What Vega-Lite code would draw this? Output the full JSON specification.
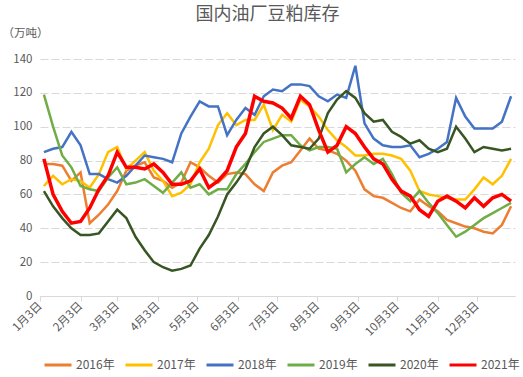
{
 "$schema": "https://vega.github.io/schema/vega-lite/v6.json",
 "width": 475, "height": 237,
 "autosize": "none",
 "padding": {"left": 40, "top": 59, "right": 8, "bottom": 81},
 "background": "white",
 "config": {"font": "Noto Sans CJK SC", "view": {"stroke": null}},
 "title": {"text": "国内油厂豆粕库存", "fontSize": 18, "fontWeight": "normal", "color": "#595959", "offset": 3, "dx": -10, "font": "Noto Sans CJK SC"},
 "data": {"values": [
{"s":"2016年","d":3,"v":78},{"s":"2016年","d":10,"v":78},{"s":"2016年","d":17,"v":77},{"s":"2016年","d":24,"v":68},{"s":"2016年","d":31,"v":73},{"s":"2016年","d":38,"v":43},{"s":"2016年","d":45,"v":48},{"s":"2016年","d":52,"v":54},{"s":"2016年","d":59,"v":62},{"s":"2016年","d":66,"v":74},{"s":"2016年","d":73,"v":77},{"s":"2016年","d":80,"v":79},{"s":"2016年","d":87,"v":70},{"s":"2016年","d":94,"v":68},{"s":"2016年","d":101,"v":64},{"s":"2016年","d":108,"v":67},{"s":"2016年","d":115,"v":79},{"s":"2016年","d":122,"v":76},{"s":"2016年","d":129,"v":71},{"s":"2016年","d":136,"v":67},{"s":"2016年","d":143,"v":72},{"s":"2016年","d":150,"v":73},{"s":"2016年","d":157,"v":72},{"s":"2016年","d":164,"v":66},{"s":"2016年","d":171,"v":62},{"s":"2016年","d":178,"v":73},{"s":"2016年","d":185,"v":77},{"s":"2016年","d":192,"v":79},{"s":"2016年","d":199,"v":86},{"s":"2016年","d":206,"v":93},{"s":"2016年","d":213,"v":87},{"s":"2016年","d":220,"v":86},{"s":"2016年","d":227,"v":84},{"s":"2016年","d":234,"v":80},{"s":"2016年","d":241,"v":74},{"s":"2016年","d":248,"v":63},{"s":"2016年","d":255,"v":59},{"s":"2016年","d":262,"v":58},{"s":"2016年","d":269,"v":55},{"s":"2016年","d":276,"v":52},{"s":"2016年","d":283,"v":50},{"s":"2016年","d":290,"v":57},{"s":"2016年","d":297,"v":53},{"s":"2016年","d":304,"v":50},{"s":"2016年","d":311,"v":45},{"s":"2016年","d":318,"v":43},{"s":"2016年","d":325,"v":41},{"s":"2016年","d":332,"v":40},{"s":"2016年","d":339,"v":38},{"s":"2016年","d":346,"v":37},{"s":"2016年","d":353,"v":42},{"s":"2016年","d":360,"v":53},
{"s":"2017年","d":3,"v":65},{"s":"2017年","d":10,"v":71},{"s":"2017年","d":17,"v":66},{"s":"2017年","d":24,"v":69},{"s":"2017年","d":31,"v":68},{"s":"2017年","d":38,"v":64},{"s":"2017年","d":45,"v":72},{"s":"2017年","d":52,"v":85},{"s":"2017年","d":59,"v":88},{"s":"2017年","d":66,"v":75},{"s":"2017年","d":73,"v":80},{"s":"2017年","d":80,"v":85},{"s":"2017年","d":87,"v":74},{"s":"2017年","d":94,"v":68},{"s":"2017年","d":101,"v":59},{"s":"2017年","d":108,"v":61},{"s":"2017年","d":115,"v":66},{"s":"2017年","d":122,"v":79},{"s":"2017年","d":129,"v":87},{"s":"2017年","d":136,"v":101},{"s":"2017年","d":143,"v":108},{"s":"2017年","d":150,"v":101},{"s":"2017年","d":157,"v":104},{"s":"2017年","d":164,"v":104},{"s":"2017年","d":171,"v":113},{"s":"2017年","d":178,"v":98},{"s":"2017年","d":185,"v":107},{"s":"2017年","d":192,"v":103},{"s":"2017年","d":199,"v":116},{"s":"2017年","d":206,"v":112},{"s":"2017年","d":213,"v":106},{"s":"2017年","d":220,"v":98},{"s":"2017年","d":227,"v":92},{"s":"2017年","d":234,"v":88},{"s":"2017年","d":241,"v":83},{"s":"2017年","d":248,"v":83},{"s":"2017年","d":255,"v":84},{"s":"2017年","d":262,"v":84},{"s":"2017年","d":269,"v":83},{"s":"2017年","d":276,"v":81},{"s":"2017年","d":283,"v":74},{"s":"2017年","d":290,"v":62},{"s":"2017年","d":297,"v":60},{"s":"2017年","d":304,"v":59},{"s":"2017年","d":311,"v":58},{"s":"2017年","d":318,"v":57},{"s":"2017年","d":325,"v":57},{"s":"2017年","d":332,"v":63},{"s":"2017年","d":339,"v":70},{"s":"2017年","d":346,"v":66},{"s":"2017年","d":353,"v":71},{"s":"2017年","d":360,"v":81},
{"s":"2018年","d":3,"v":85},{"s":"2018年","d":10,"v":87},{"s":"2018年","d":17,"v":88},{"s":"2018年","d":24,"v":97},{"s":"2018年","d":31,"v":89},{"s":"2018年","d":38,"v":72},{"s":"2018年","d":45,"v":72},{"s":"2018年","d":52,"v":69},{"s":"2018年","d":59,"v":67},{"s":"2018年","d":66,"v":71},{"s":"2018年","d":73,"v":77},{"s":"2018年","d":80,"v":83},{"s":"2018年","d":87,"v":82},{"s":"2018年","d":94,"v":81},{"s":"2018年","d":101,"v":79},{"s":"2018年","d":108,"v":96},{"s":"2018年","d":115,"v":106},{"s":"2018年","d":122,"v":115},{"s":"2018年","d":129,"v":112},{"s":"2018年","d":136,"v":112},{"s":"2018年","d":143,"v":95},{"s":"2018年","d":150,"v":104},{"s":"2018年","d":157,"v":111},{"s":"2018年","d":164,"v":107},{"s":"2018年","d":171,"v":118},{"s":"2018年","d":178,"v":122},{"s":"2018年","d":185,"v":121},{"s":"2018年","d":192,"v":125},{"s":"2018年","d":199,"v":125},{"s":"2018年","d":206,"v":124},{"s":"2018年","d":213,"v":118},{"s":"2018年","d":220,"v":115},{"s":"2018年","d":227,"v":119},{"s":"2018年","d":234,"v":117},{"s":"2018年","d":241,"v":136},{"s":"2018年","d":248,"v":102},{"s":"2018年","d":255,"v":93},{"s":"2018年","d":262,"v":89},{"s":"2018年","d":269,"v":88},{"s":"2018年","d":276,"v":88},{"s":"2018年","d":283,"v":89},{"s":"2018年","d":290,"v":82},{"s":"2018年","d":297,"v":84},{"s":"2018年","d":304,"v":87},{"s":"2018年","d":311,"v":91},{"s":"2018年","d":318,"v":117},{"s":"2018年","d":325,"v":106},{"s":"2018年","d":332,"v":99},{"s":"2018年","d":339,"v":99},{"s":"2018年","d":346,"v":99},{"s":"2018年","d":353,"v":103},{"s":"2018年","d":360,"v":118},
{"s":"2019年","d":3,"v":119},{"s":"2019年","d":10,"v":100},{"s":"2019年","d":17,"v":83},{"s":"2019年","d":24,"v":76},{"s":"2019年","d":31,"v":65},{"s":"2019年","d":38,"v":63},{"s":"2019年","d":45,"v":62},{"s":"2019年","d":52,"v":70},{"s":"2019年","d":59,"v":76},{"s":"2019年","d":66,"v":66},{"s":"2019年","d":73,"v":67},{"s":"2019年","d":80,"v":69},{"s":"2019年","d":87,"v":65},{"s":"2019年","d":94,"v":61},{"s":"2019年","d":101,"v":67},{"s":"2019年","d":108,"v":73},{"s":"2019年","d":115,"v":64},{"s":"2019年","d":122,"v":66},{"s":"2019年","d":129,"v":60},{"s":"2019年","d":136,"v":63},{"s":"2019年","d":143,"v":63},{"s":"2019年","d":150,"v":72},{"s":"2019年","d":157,"v":78},{"s":"2019年","d":164,"v":85},{"s":"2019年","d":171,"v":91},{"s":"2019年","d":178,"v":93},{"s":"2019年","d":185,"v":95},{"s":"2019年","d":192,"v":95},{"s":"2019年","d":199,"v":89},{"s":"2019年","d":206,"v":86},{"s":"2019年","d":213,"v":88},{"s":"2019年","d":220,"v":88},{"s":"2019年","d":227,"v":87},{"s":"2019年","d":234,"v":73},{"s":"2019年","d":241,"v":78},{"s":"2019年","d":248,"v":82},{"s":"2019年","d":255,"v":78},{"s":"2019年","d":262,"v":81},{"s":"2019年","d":269,"v":72},{"s":"2019年","d":276,"v":61},{"s":"2019年","d":283,"v":56},{"s":"2019年","d":290,"v":62},{"s":"2019年","d":297,"v":55},{"s":"2019年","d":304,"v":49},{"s":"2019年","d":311,"v":42},{"s":"2019年","d":318,"v":35},{"s":"2019年","d":325,"v":38},{"s":"2019年","d":332,"v":42},{"s":"2019年","d":339,"v":46},{"s":"2019年","d":346,"v":49},{"s":"2019年","d":353,"v":52},{"s":"2019年","d":360,"v":55},
{"s":"2020年","d":3,"v":62},{"s":"2020年","d":10,"v":53},{"s":"2020年","d":17,"v":46},{"s":"2020年","d":24,"v":40},{"s":"2020年","d":31,"v":36},{"s":"2020年","d":38,"v":36},{"s":"2020年","d":45,"v":37},{"s":"2020年","d":52,"v":44},{"s":"2020年","d":59,"v":51},{"s":"2020年","d":66,"v":46},{"s":"2020年","d":73,"v":35},{"s":"2020年","d":80,"v":27},{"s":"2020年","d":87,"v":20},{"s":"2020年","d":94,"v":17},{"s":"2020年","d":101,"v":15},{"s":"2020年","d":108,"v":16},{"s":"2020年","d":115,"v":18},{"s":"2020年","d":122,"v":28},{"s":"2020年","d":129,"v":36},{"s":"2020年","d":136,"v":47},{"s":"2020年","d":143,"v":60},{"s":"2020年","d":150,"v":67},{"s":"2020年","d":157,"v":75},{"s":"2020年","d":164,"v":88},{"s":"2020年","d":171,"v":96},{"s":"2020年","d":178,"v":100},{"s":"2020年","d":185,"v":95},{"s":"2020年","d":192,"v":89},{"s":"2020年","d":199,"v":88},{"s":"2020年","d":206,"v":87},{"s":"2020年","d":213,"v":93},{"s":"2020年","d":220,"v":108},{"s":"2020年","d":227,"v":116},{"s":"2020年","d":234,"v":121},{"s":"2020年","d":241,"v":117},{"s":"2020年","d":248,"v":108},{"s":"2020年","d":255,"v":103},{"s":"2020年","d":262,"v":104},{"s":"2020年","d":269,"v":97},{"s":"2020年","d":276,"v":94},{"s":"2020年","d":283,"v":90},{"s":"2020年","d":290,"v":92},{"s":"2020年","d":297,"v":87},{"s":"2020年","d":304,"v":85},{"s":"2020年","d":311,"v":87},{"s":"2020年","d":318,"v":100},{"s":"2020年","d":325,"v":93},{"s":"2020年","d":332,"v":85},{"s":"2020年","d":339,"v":88},{"s":"2020年","d":346,"v":87},{"s":"2020年","d":353,"v":86},{"s":"2020年","d":360,"v":87},
{"s":"2021年","d":3,"v":81},{"s":"2021年","d":10,"v":60},{"s":"2021年","d":17,"v":50},{"s":"2021年","d":24,"v":43},{"s":"2021年","d":31,"v":44},{"s":"2021年","d":38,"v":52},{"s":"2021年","d":45,"v":63},{"s":"2021年","d":52,"v":71},{"s":"2021年","d":59,"v":85},{"s":"2021年","d":66,"v":76},{"s":"2021年","d":73,"v":76},{"s":"2021年","d":80,"v":75},{"s":"2021年","d":87,"v":78},{"s":"2021年","d":94,"v":73},{"s":"2021年","d":101,"v":66},{"s":"2021年","d":108,"v":66},{"s":"2021年","d":115,"v":68},{"s":"2021年","d":122,"v":75},{"s":"2021年","d":129,"v":64},{"s":"2021年","d":136,"v":68},{"s":"2021年","d":143,"v":74},{"s":"2021年","d":150,"v":88},{"s":"2021年","d":157,"v":96},{"s":"2021年","d":164,"v":118},{"s":"2021年","d":171,"v":115},{"s":"2021年","d":178,"v":114},{"s":"2021年","d":185,"v":111},{"s":"2021年","d":192,"v":105},{"s":"2021年","d":199,"v":118},{"s":"2021年","d":206,"v":113},{"s":"2021年","d":213,"v":98},{"s":"2021年","d":220,"v":85},{"s":"2021年","d":227,"v":89},{"s":"2021年","d":234,"v":100},{"s":"2021年","d":241,"v":96},{"s":"2021年","d":248,"v":88},{"s":"2021年","d":255,"v":81},{"s":"2021年","d":262,"v":78},{"s":"2021年","d":269,"v":69},{"s":"2021年","d":276,"v":62},{"s":"2021年","d":283,"v":59},{"s":"2021年","d":290,"v":51},{"s":"2021年","d":297,"v":47},{"s":"2021年","d":304,"v":56},{"s":"2021年","d":311,"v":59},{"s":"2021年","d":318,"v":56},{"s":"2021年","d":325,"v":52},{"s":"2021年","d":332,"v":58},{"s":"2021年","d":339,"v":53},{"s":"2021年","d":346,"v":58},{"s":"2021年","d":353,"v":60},{"s":"2021年","d":360,"v":56}
 ]},
 "encoding": {
  "x": {"field": "d", "type": "quantitative", "scale": {"domain": [0, 363], "nice": false, "zero": false},
        "axis": {"values": [0,31,59,90,120,151,181,212,243,273,304,334],
                 "labelExpr": "timeFormat(datetime(2021,0,3+datum.value),'%-m月%-d日')",
                 "title": null, "grid": false, "labelAngle": -45, "labelAlign": "right", "labelBaseline": "middle",
                 "labelOverlap": false, "labelFlush": false, "labelFontSize": 11.5, "labelColor": "#595959",
                 "domainColor": "#d9d9d9", "tickColor": "#d9d9d9", "tickSize": 5, "labelPadding": 3}},
  "y": {"field": "v", "type": "quantitative", "scale": {"domain": [0, 140], "nice": false},
        "axis": {"values": [0,20,40,60,80,100,120,140], "title": "（万吨）", "titleAngle": 0, "titleX": -38, "titleY": -26,
                 "titleAlign": "left", "titleBaseline": "middle", "titleFontSize": 11.5, "titleFontWeight": "normal", "titleColor": "#595959",
                 "domain": false, "ticks": false, "gridDash": [8, 3], "gridColor": "#d9d9d9", "labelPadding": 8,
                 "labelFontSize": 11.5, "labelColor": "#595959"}},
  "color": {"field": "s", "type": "nominal",
            "scale": {"domain": ["2016年","2017年","2018年","2019年","2020年","2021年"],
                      "range": ["#ED7D31","#FFC000","#4472C4","#70AD47","#375623","#FF0000"]},
            "legend": {"title": null, "orient": "none", "legendX": 3, "legendY": 291, "direction": "horizontal",
                       "symbolType": "stroke", "symbolSize": 729, "symbolStrokeWidth": 3, "labelFontSize": 12,
                       "labelColor": "#595959", "columnPadding": 4, "labelOffset": 3}}
 },
 "layer": [
  {"transform": [{"filter": "datum.s !== '2021年'"}], "mark": {"type": "line", "strokeWidth": 2.5}},
  {"transform": [{"filter": "datum.s === '2021年'"}], "mark": {"type": "line", "strokeWidth": 3.5}}
 ]
}
